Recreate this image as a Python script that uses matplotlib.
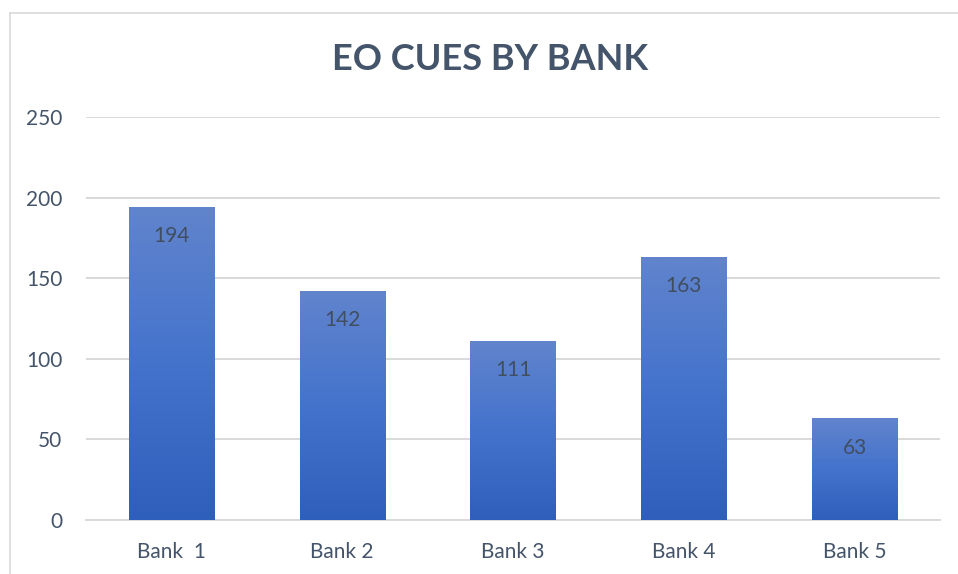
import matplotlib
matplotlib.use("Agg")
import matplotlib.pyplot as plt
import numpy as np
from matplotlib.colors import LinearSegmentedColormap
from matplotlib.lines import Line2D

# Chart data
banks = ["Bank  1", "Bank 2", "Bank 3", "Bank 4", "Bank 5"]
cues = [194, 142, 111, 163, 63]
y_ticks = [0, 50, 100, 150, 200, 250]

TEXT = "#44546A"
GRID = "#D9D9D9"

plt.rcParams["font.family"] = ["Lato", "DejaVu Sans"]

fig = plt.figure(figsize=(9.58, 5.74), dpi=100)
ax = fig.add_axes([86 / 958, 1 - 520 / 574, (940 - 86) / 958, (520 - 117) / 574])

x = np.arange(len(banks))
bars = ax.bar(x, cues, width=0.5, color="none", edgecolor="none", zorder=3)

# vertical gradient fill for each bar
cmap = LinearSegmentedColormap.from_list("bar", ["#2E5FBB", "#4473CC", "#6184CD"])
grad = np.linspace(0, 1, 256).reshape(-1, 1)
for b in bars:
    x0, w, h = b.get_x(), b.get_width(), b.get_height()
    im = ax.imshow(grad, cmap=cmap, origin="lower", aspect="auto",
                   extent=[x0, x0 + w, 0, h], zorder=3)
    im.set_clip_path(b)

for xi, v in zip(x, cues):
    ax.annotate(str(v), (xi, v), xytext=(0, -21), textcoords="offset points",
                ha="center", va="center", fontsize=15, color="#404E60", zorder=4)

ax.set_xlim(-0.5, len(banks) - 0.5)
ax.set_ylim(0, 250)
ax.set_yticks(y_ticks)
ax.set_xticks(x)
ax.set_xticklabels(banks)
ax.tick_params(axis="both", length=0, labelsize=15, labelcolor=TEXT)
ax.tick_params(axis="y", pad=17)
ax.tick_params(axis="x", pad=16)
ax.grid(axis="y", color=GRID, linewidth=1.4, zorder=0)
ax.set_axisbelow(True)
for s in ["top", "right", "left"]:
    ax.spines[s].set_visible(False)
ax.spines["bottom"].set_color(GRID)
ax.spines["bottom"].set_linewidth(1.4)

fig.text(490 / 958, 1 - 60 / 574, "EO CUES BY BANK", ha="center", va="center",
         fontsize=26, fontweight="bold", color=TEXT)

# outer chart frame (left and top edges visible)
fig.add_artist(Line2D([9.5 / 958, 9.5 / 958], [0, 1 - 12.5 / 574],
                      transform=fig.transFigure, color=GRID, linewidth=1.2))
fig.add_artist(Line2D([9.5 / 958, 1], [1 - 12.5 / 574, 1 - 12.5 / 574],
                      transform=fig.transFigure, color=GRID, linewidth=1.2))

fig.savefig("out.png", dpi=100)
